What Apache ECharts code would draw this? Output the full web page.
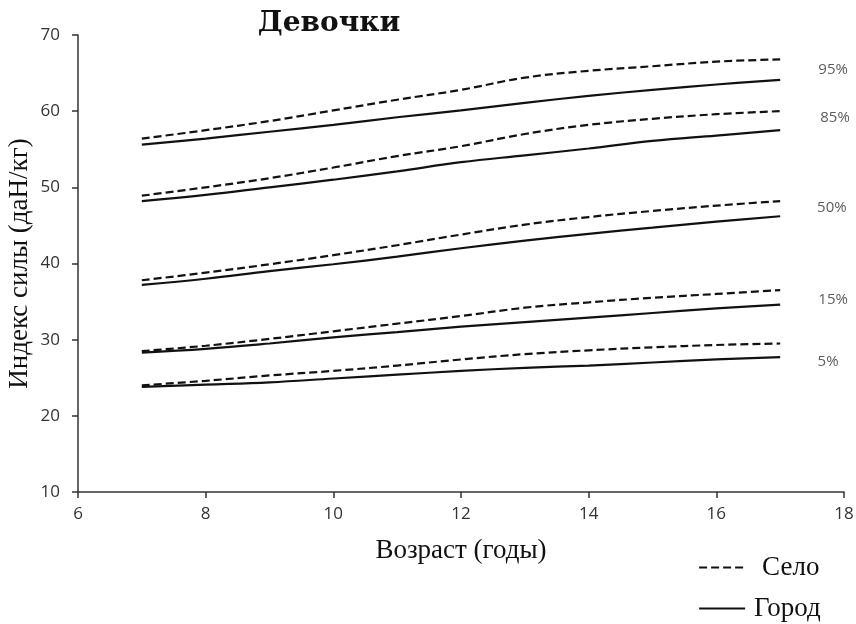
<!DOCTYPE html>
<html>
<head>
<meta charset="utf-8">
<script src="https://cdn.jsdelivr.net/npm/echarts@6/dist/echarts.min.js"></script>
<style>
html,body{margin:0;padding:0;background:#fff;}
#chart{width:856px;height:624px;}
</style>
</head>
<body>
<div id="chart"></div>
<script>
// ---- data ----
var ages = [7, 8, 9, 10, 11, 12, 13, 14, 15, 16, 17];
var percentiles = ['95%', '85%', '50%', '15%', '5%'];

// Село (rural) – dashed
var selo95 = [56.4, 57.5, 58.7, 60.1, 61.5, 62.8, 64.4, 65.3, 65.9, 66.5, 66.8];
var selo85 = [48.9, 50.0, 51.2, 52.6, 54.1, 55.4, 57.0, 58.2, 59.0, 59.6, 60.0];
var selo50 = [37.8, 38.8, 39.9, 41.1, 42.4, 43.8, 45.1, 46.1, 46.9, 47.6, 48.2];
var selo15 = [28.5, 29.2, 30.1, 31.1, 32.1, 33.1, 34.2, 34.9, 35.5, 36.0, 36.5];
var selo5  = [24.0, 24.6, 25.3, 25.9, 26.6, 27.4, 28.1, 28.6, 29.0, 29.3, 29.5];

// Город (urban) – solid
var gorod95 = [55.6, 56.4, 57.3, 58.2, 59.2, 60.1, 61.1, 62.0, 62.8, 63.5, 64.1];
var gorod85 = [48.2, 49.0, 50.0, 51.0, 52.1, 53.3, 54.2, 55.1, 56.1, 56.8, 57.5];
var gorod50 = [37.2, 38.0, 39.0, 39.9, 40.9, 42.0, 43.0, 43.9, 44.7, 45.5, 46.2];
var gorod15 = [28.3, 28.8, 29.5, 30.3, 31.0, 31.7, 32.3, 32.9, 33.5, 34.1, 34.6];
var gorod5  = [23.8, 24.1, 24.4, 24.9, 25.4, 25.9, 26.3, 26.6, 27.0, 27.4, 27.7];

// percentile label anchor positions (data units)
var labelX = [17.83, 17.86, 17.81, 17.83, 17.75];
var labelY = [65.5, 59.1, 47.3, 35.3, 27.1];

var xTicks = [6, 8, 10, 12, 14, 16, 18];
var yTicks = [10, 20, 30, 40, 50, 60, 70];

// ---- chart ----
function pairs(vals) {
  return ages.map(function (a, i) { return [a, vals[i]]; });
}
var seloSets = [selo95, selo85, selo50, selo15, selo5];
var gorodSets = [gorod95, gorod85, gorod50, gorod15, gorod5];

var series = [];
seloSets.forEach(function (s) {
  series.push({
    name: 'Село', type: 'line', smooth: 0.4, symbol: 'none', data: pairs(s),
    lineStyle: { color: '#111', width: 2.2, type: [8, 4] },
    itemStyle: { color: '#111' }, z: 3
  });
});
gorodSets.forEach(function (s) {
  series.push({
    name: 'Город', type: 'line', smooth: 0.4, symbol: 'none', data: pairs(s),
    lineStyle: { color: '#111', width: 2.2, type: 'solid' },
    itemStyle: { color: '#111' }, z: 3
  });
});
series.push({
  name: 'labels', type: 'scatter', symbolSize: 0, silent: true,
  data: percentiles.map(function (p, i) { return { value: [labelX[i], labelY[i]], name: p }; }),
  label: {
    show: true, position: 'inside', formatter: '{b}',
    fontFamily: 'Open Sans', fontSize: 15, color: '#333'
  }
});

var chart = echarts.init(document.getElementById('chart'), null, { renderer: 'canvas' });
chart.setOption({
  animation: false,
  backgroundColor: '#fff',
  title: {
    text: 'Девочки', left: 324, top: 5, textAlign: 'center',
    textStyle: { fontFamily: 'DejaVu Serif', fontWeight: 'bold', fontSize: 28, color: '#111' }
  },
  grid: { left: 78, right: 12, top: 35, bottom: 132, containLabel: false, outerBoundsMode: 'none' },
  legend: {
    orient: 'vertical', left: 698, top: 554, padding: 0,
    itemWidth: 46, itemHeight: 27, itemGap: 14,
    itemStyle: { opacity: 0 },
    lineStyle: { width: 2.2 },
    data: [
      { name: 'Село', textStyle: { padding: [0, 0, 0, 12] } },
      { name: 'Город', textStyle: { padding: [0, 0, 0, 4] } }
    ],
    textStyle: { fontFamily: 'Liberation Serif', fontSize: 27, color: '#111' }
  },
  xAxis: {
    type: 'value', min: xTicks[0], max: xTicks[xTicks.length - 1], interval: 2,
    name: 'Возраст (годы)', nameLocation: 'middle', nameGap: 45, nameMoveOverlap: false,
    nameTextStyle: { fontFamily: 'Liberation Serif', fontSize: 27, color: '#111' },
    axisLine: { lineStyle: { color: '#333', width: 1.5 } },
    axisTick: { show: true, inside: false, length: 6, lineStyle: { color: '#333', width: 1.5 } },
    axisLabel: { margin: 14, fontFamily: 'Open Sans', fontSize: 17, color: '#333' },
    splitLine: { show: false }
  },
  yAxis: {
    type: 'value', min: yTicks[0], max: yTicks[yTicks.length - 1], interval: 10,
    name: 'Индекс силы (даН/кг)', nameLocation: 'middle', nameGap: 45, nameMoveOverlap: false,
    nameTextStyle: { fontFamily: 'Liberation Serif', fontSize: 27, color: '#111' },
    axisLine: { show: true, lineStyle: { color: '#333', width: 1.5 } },
    axisTick: { show: true, inside: false, length: 6, lineStyle: { color: '#333', width: 1.5 } },
    axisLabel: { margin: 18, fontFamily: 'Open Sans', fontSize: 17, color: '#333' },
    splitLine: { show: false }
  },
  series: series
});
</script>
</body>
</html>
